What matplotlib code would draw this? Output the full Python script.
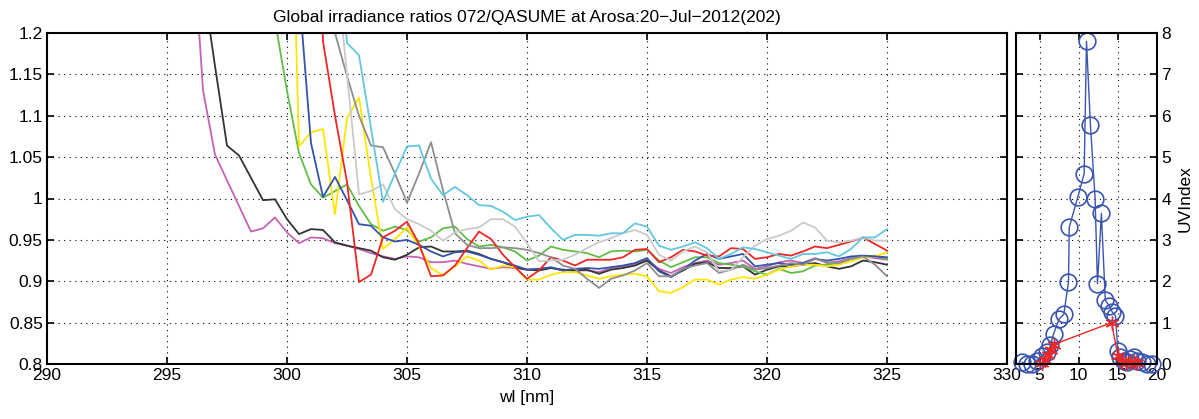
import numpy as np
import matplotlib
matplotlib.use('Agg')
import matplotlib.pyplot as plt

plt.rcParams['font.family'] = ['Liberation Sans', 'DejaVu Sans']

# wavelength grid, 0.5 nm steps
wl = np.arange(296.0, 325.01, 0.5)

magenta = [1.35, 1.131, 1.053, 1.022, 0.991, 0.960, 0.964, 0.977, 0.959, 0.946,
           0.953, 0.952, 0.946, 0.943, 0.939, 0.934, 0.930, 0.927, 0.930, 0.929,
           0.923, 0.923, 0.925, 0.921, 0.918, 0.915, 0.917, 0.916, 0.914, 0.915,
           0.916, 0.913, 0.913, 0.913, 0.911, 0.916, 0.918, 0.921, 0.926, 0.915,
           0.910, 0.917, 0.922, 0.925, 0.920, 0.922, 0.925, 0.915, 0.918, 0.923,
           0.925, 0.922, 0.928, 0.922, 0.924, 0.928, 0.930, 0.928, 0.926]
black = [1.42, 1.26, 1.16, 1.064, 1.052, 1.025, 0.998, 0.999, 0.975, 0.957,
         0.963, 0.962, 0.947, 0.943, 0.940, 0.937, 0.929, 0.926, 0.932, 0.941,
         0.942, 0.936, 0.936, 0.937, 0.933, 0.927, 0.923, 0.917, 0.914, 0.913,
         0.916, 0.914, 0.913, 0.914, 0.909, 0.914, 0.916, 0.919, 0.925, 0.913,
         0.906, 0.913, 0.921, 0.923, 0.916, 0.916, 0.918, 0.908, 0.914, 0.918,
         0.918, 0.920, 0.922, 0.918, 0.915, 0.918, 0.925, 0.923, 0.920]
green = [1.90, 1.80, 1.70, 1.60, 1.50, 1.42, 1.35, 1.215, 1.13, 1.055,
         1.017, 1.001, 1.009, 1.017, 0.991, 0.969, 0.961, 0.966, 0.962, 0.948,
         0.953, 0.964, 0.966, 0.951, 0.942, 0.944, 0.941, 0.936, 0.925, 0.931,
         0.942, 0.938, 0.936, 0.934, 0.929, 0.936, 0.937, 0.936, 0.938, 0.925,
         0.917, 0.923, 0.929, 0.929, 0.922, 0.920, 0.918, 0.912, 0.908, 0.915,
         0.910, 0.912, 0.919, 0.920, 0.922, 0.927, 0.929, 0.931, 0.927]
yellow = [2.00, 1.95, 1.90, 1.85, 1.80, 1.75, 1.70, 1.65, 1.60, 1.063,
          1.080, 1.084, 0.981, 1.097, 1.122, 1.025, 0.939, 0.951, 0.965, 0.942,
          0.916, 0.907, 0.918, 0.930, 0.925, 0.914, 0.919, 0.917, 0.902, 0.902,
          0.908, 0.911, 0.911, 0.907, 0.903, 0.906, 0.908, 0.909, 0.906, 0.888,
          0.886, 0.893, 0.902, 0.902, 0.896, 0.902, 0.905, 0.903, 0.908, 0.914,
          0.918, 0.920, 0.920, 0.918, 0.920, 0.924, 0.929, 0.930, 0.935]
blue = [2.00, 1.95, 1.90, 1.85, 1.80, 1.75, 1.70, 1.60, 1.50, 1.25,
        1.067, 1.002, 1.026, 0.998, 0.969, 0.967, 0.953, 0.948, 0.950, 0.944,
        0.936, 0.930, 0.935, 0.936, 0.932, 0.927, 0.923, 0.919, 0.914, 0.915,
        0.917, 0.913, 0.915, 0.916, 0.915, 0.917, 0.919, 0.922, 0.928, 0.912,
        0.905, 0.914, 0.925, 0.933, 0.927, 0.930, 0.933, 0.918, 0.920, 0.922,
        0.920, 0.922, 0.927, 0.925, 0.927, 0.930, 0.931, 0.930, 0.929]
red = [2.00, 1.95, 1.90, 1.85, 1.80, 1.75, 1.70, 1.65, 1.62, 1.60,
       1.60, 1.19, 1.10, 1.02, 0.899, 0.908, 0.953, 0.961, 0.972, 0.945,
       0.906, 0.907, 0.919, 0.940, 0.960, 0.951, 0.932, 0.917, 0.903, 0.913,
       0.929, 0.925, 0.919, 0.926, 0.926, 0.926, 0.929, 0.938, 0.939, 0.923,
       0.929, 0.938, 0.936, 0.931, 0.930, 0.940, 0.939, 0.927, 0.929, 0.933,
       0.931, 0.936, 0.942, 0.940, 0.944, 0.948, 0.953, 0.945, 0.937]
gray = [2.00, 1.95, 1.90, 1.85, 1.80, 1.75, 1.70, 1.65, 1.60, 1.55,
        1.50, 1.40, 1.20, 1.148, 1.10, 1.064, 1.062, 1.03, 0.995, 1.03,
        1.068, 1.01, 0.958, 0.944, 0.940, 0.940, 0.941, 0.940, 0.938, 0.934,
        0.929, 0.919, 0.915, 0.903, 0.892, 0.903, 0.907, 0.913, 0.922, 0.906,
        0.906, 0.915, 0.919, 0.922, 0.910, 0.914, 0.920, 0.914, 0.916, 0.919,
        0.922, 0.920, 0.927, 0.923, 0.922, 0.927, 0.930, 0.920, 0.906]
lightgray = [2.00, 1.95, 1.90, 1.85, 1.80, 1.75, 1.70, 1.65, 1.60, 1.55,
             1.50, 1.40, 1.296, 1.15, 1.005, 1.009, 1.017, 0.987, 0.975, 0.969,
             0.961, 0.949, 0.959, 0.963, 0.965, 0.975, 0.975, 0.966, 0.946, 0.924,
             0.925, 0.926, 0.932, 0.940, 0.947, 0.952, 0.958, 0.962, 0.956, 0.932,
             0.925, 0.936, 0.942, 0.935, 0.912, 0.914, 0.929, 0.943, 0.951, 0.955,
             0.961, 0.971, 0.965, 0.949, 0.947, 0.949, 0.953, 0.949, 0.949]
cyan = [2.00, 1.95, 1.90, 1.85, 1.80, 1.75, 1.70, 1.65, 1.60, 1.55,
        1.50, 1.45, 1.35, 1.188, 1.173, 1.085, 0.996, 1.03, 1.063, 1.064,
        1.024, 1.004, 1.014, 1.004, 0.992, 0.991, 0.984, 0.974, 0.978, 0.980,
        0.964, 0.950, 0.956, 0.956, 0.955, 0.958, 0.958, 0.970, 0.966, 0.943,
        0.938, 0.942, 0.947, 0.940, 0.927, 0.933, 0.941, 0.939, 0.935, 0.931,
        0.927, 0.933, 0.933, 0.935, 0.930, 0.939, 0.953, 0.953, 0.963]

series = [magenta, black, green, yellow, blue, red, gray, lightgray, cyan]
colors = ['#c463b6', '#333333', '#62bd45', '#ffe600', '#3553a8',
          '#f02525', '#8e8e8e', '#cacaca', '#62c8df']

# UV index panel
uv_x = [2.8, 3.4, 4.1, 4.7, 5.3, 6.0, 6.4, 6.8, 7.5, 8.1, 8.7, 8.8, 9.9, 10.7,
        11.0, 11.5, 12.1, 12.4, 12.9, 13.4, 13.9, 14.3, 14.7, 15.0, 15.3, 15.8,
        16.2, 16.6, 17.0, 17.5, 18.1, 18.7, 19.4]
uv_y = [0.04, 0.0, 0.0, 0.08, 0.2, 0.3, 0.45, 0.73, 1.09, 1.2, 1.98, 3.31, 4.04,
        4.6, 7.8, 5.78, 4.0, 1.94, 3.64, 1.54, 1.41, 1.25, 1.17, 0.32, 0.16,
        0.08, 0.04, 0.12, 0.16, 0.08, 0.04, 0.0, 0.0]
st_x = [5.3, 5.7, 6.1, 6.5, 6.8, 14.2, 15.0, 15.5, 16.0, 16.5, 17.0, 17.5]
st_y = [0.03, 0.10, 0.22, 0.35, 0.47, 1.0, 0.2, 0.05, 0.02, 0.04, 0.06, 0.02]

fig = plt.figure(figsize=(11.99, 4.19), dpi=100)
ax = fig.add_axes([47 / 1199, 1 - 364 / 419, 960 / 1199, 331 / 419])
ax2 = fig.add_axes([1016 / 1199, 1 - 364 / 419, 141 / 1199, 331 / 419])

for s, c in zip(series, colors):
    ax.plot(wl, s, color=c, lw=1.3)

ax.set_xlim(290, 330)
ax.set_ylim(0.8, 1.2)
ax.set_xticks(np.arange(290, 331, 5))
ax.set_yticks(np.arange(0.8, 1.201, 0.05))
ax.set_yticklabels(['0.8', '0.85', '0.9', '0.95', '1', '1.05', '1.1', '1.15', '1.2'])
ax.set_xlabel('wl [nm]', fontsize=12.5, labelpad=5)
ax.set_title('Global irradiance ratios 072/QASUME at Arosa:20\u2212Jul\u22122012(202)',
             fontsize=12.5, pad=8)

ax2.plot(uv_x, uv_y, '-o', color='#3a55b0', lw=1.0, ms=12, mfc='none', mew=1.2,
         clip_on=False)
ax2.plot(st_x, st_y, '-', color='#f02525', lw=1.0, marker=(6, 2, 0), ms=10,
         mew=1.0, clip_on=False)
ax2.set_xlim(2, 20)
ax2.set_ylim(0, 8)
ax2.set_xticks([5, 10, 15, 20])
ax2.set_yticks(range(0, 9))
ax2.yaxis.tick_right()
ax2.yaxis.set_label_position('right')
ax2.set_ylabel('UVIndex', fontsize=12.5, labelpad=5)

for a in (ax, ax2):
    a.grid(True, color='black', linestyle=(0, (1, 4)), lw=0.8)
    a.tick_params(direction='in', top=True, right=True, left=True, bottom=True,
                  length=5, width=1.2, labelsize=12.5, pad=3)
    for sp in a.spines.values():
        sp.set_linewidth(1.5)

fig.savefig('out.png', dpi=100)
